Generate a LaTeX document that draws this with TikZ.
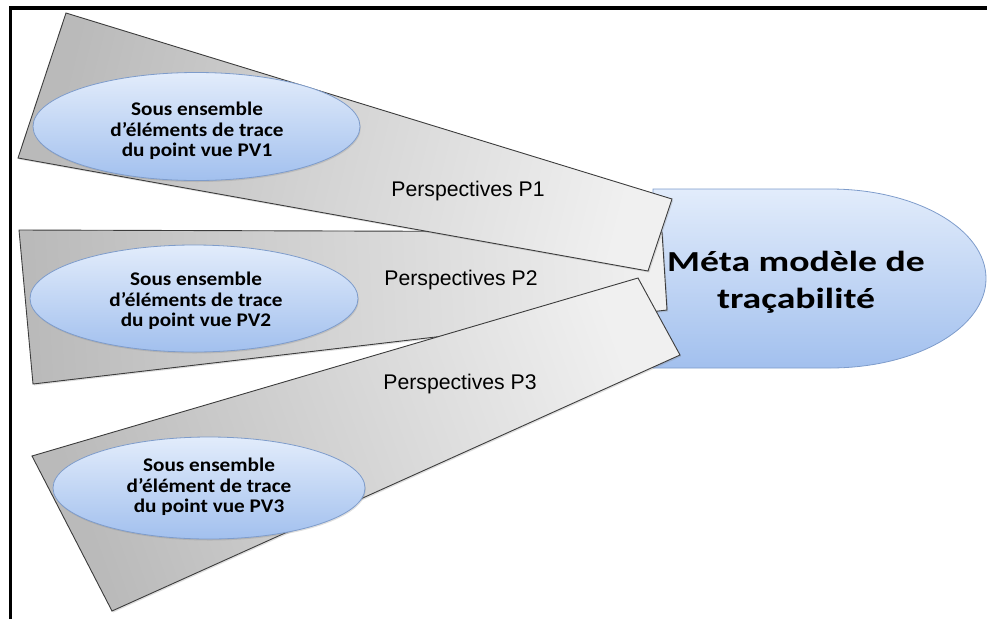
\documentclass[tikz,border=0pt]{standalone}
\usepackage{fontspec}
\setmainfont{Liberation Sans}
\newfontfamily\calsmall[FakeStretch=1.1]{Carlito}
\newfontfamily\calbig[FakeStretch=1.3]{Carlito}
\usetikzlibrary{shapes.geometric,shadows}
\definecolor{polydark}{HTML}{BABABA}
\definecolor{polylight}{HTML}{F0F0F0}
\definecolor{polyedge}{HTML}{3C3C3C}
\definecolor{bluetop}{HTML}{E2ECFB}
\definecolor{bluebot}{HTML}{A2C0EE}
\definecolor{blueedge}{HTML}{7E9CCB}
\tikzset{
  persp/.style={draw=polyedge, line width=0.9pt, left color=polydark, right color=polylight,
     drop shadow={shadow xshift=1.2pt, shadow yshift=-1.5pt, opacity=0.25}},
  pvellipse/.style={ellipse, draw=blueedge, line width=0.8pt, top color=bluetop, bottom color=bluebot,
     inner sep=0pt, drop shadow={shadow xshift=0.8pt, shadow yshift=-1.5pt, opacity=0.25}},
  pvtext/.style={inner sep=0pt, align=center, font=\calsmall\bfseries\fontsize{19.3}{20.7}\selectfont},
  perlabel/.style={font=\fontsize{21.2}{24}\selectfont, inner sep=0pt},
  metashape/.style={draw=blueedge, line width=0.8pt, top color=bluetop, bottom color=bluebot},
  frameline/.style={line width=3.8pt, black}
}
\begin{document}
\begin{tikzpicture}[x=1pt,y=-1pt]
\useasboundingbox (0,0) rectangle (987,619);
% frame
\draw[frameline] (10.5,619) -- (10.5,8) -- (987,8);
% main shape
\path[metashape] (653,189) -- (830,189) arc[start angle=90, end angle=-90, x radius=156pt, y radius=89.5pt] -- (653,368) -- cycle;
\node[font=\calbig\bfseries\fontsize{29}{37}\selectfont, align=center, inner sep=0pt] (meta) at (796,282) {Méta modèle de\\traçabilité};
% perspective P2
\path[persp, shading angle=93] (19,230) -- (662,232) -- (667,310) -- (33,384) -- cycle;
\node[pvellipse, minimum width=328pt, minimum height=107pt] (pv2) at (194,298.5) {};
\node[pvtext] (pv2t) at (196,301) {Sous ensemble\\d’éléments de trace\\du point vue PV2};
\node[perlabel] (p2) at (461,280) {Perspectives P2};
% perspective P1
\path[persp, shading angle=76] (66,13) -- (672,199) -- (648,271) -- (18,158) -- cycle;
\node[pvellipse, minimum width=327pt, minimum height=108pt] (pv1) at (196.5,126.5) {};
\node[pvtext] (pv1t) at (197,131) {Sous ensemble\\d’éléments de trace\\du point vue PV1};
\node[perlabel] (p1) at (468,191) {Perspectives P1};
% perspective P3
\path[persp, shading angle=110] (32,456) -- (638,278) -- (680,355) -- (112,611) -- cycle;
\node[pvellipse, minimum width=312pt, minimum height=102pt] (pv3) at (209,488) {};
\node[pvtext] (pv3t) at (209,487) {Sous ensemble\\d’élément de trace\\du point vue PV3};
\node[perlabel] (p3) at (460,384) {Perspectives P3};
\end{tikzpicture}
\end{document}
